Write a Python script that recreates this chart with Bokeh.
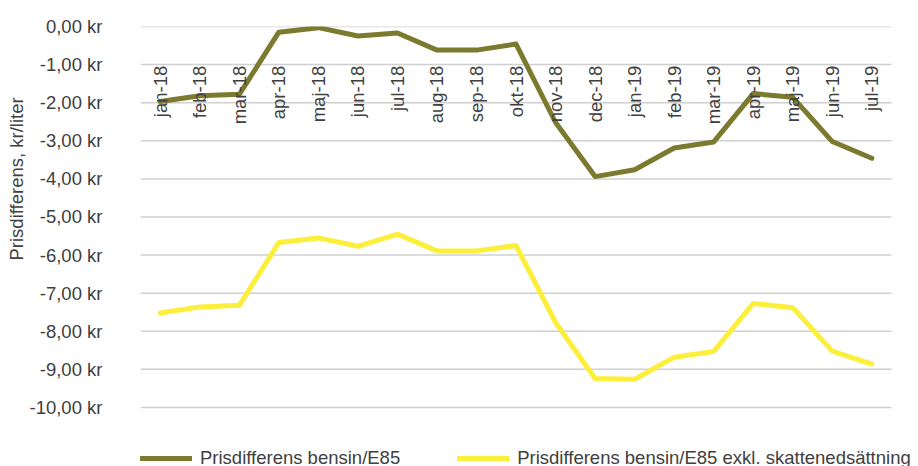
import math
from bokeh.plotting import figure
from bokeh.models import (Range1d, ColumnDataSource, CustomJSTickFormatter,
                          Legend, LegendItem, Title, FixedTicker)
from bokeh.core.properties import value
from bokeh.embed import file_html
from bokeh.resources import INLINE

months = ["jan-18", "feb-18", "mar-18", "apr-18", "maj-18", "jun-18", "jul-18", "aug-18",
          "sep-18", "okt-18", "nov-18", "dec-18", "jan-19", "feb-19", "mar-19", "apr-19",
          "maj-19", "jun-19", "jul-19"]
diff_e85 = [-1.97, -1.82, -1.78, -0.15, -0.03, -0.25, -0.17, -0.62, -0.62, -0.46,
            -2.52, -3.94, -3.76, -3.19, -3.03, -1.76, -1.86, -3.02, -3.46]
diff_excl_tax = [-7.52, -7.36, -7.32, -5.67, -5.55, -5.77, -5.45, -5.89, -5.89, -5.75,
                 -7.77, -9.24, -9.26, -8.68, -8.53, -7.27, -7.38, -8.52, -8.86]
y_ticks = [0, -1, -2, -3, -4, -5, -6, -7, -8, -9, -10]
label_row = [-1.03] * len(months)
series_names = ["Prisdifferens bensin/E85", "Prisdifferens bensin/E85 exkl. skattenedsättning"]
y_title = "Prisdifferens, kr/liter"

FONT = "Liberation Sans"
TXT = "#404040"
OLIVE = "#7b7a2e"
YELLOW = "#fcef3c"

n = len(months)
idx = list(range(n))

p = figure(width=918, height=466, output_backend="svg", toolbar_location=None,
           x_range=Range1d(-0.5, 19.18), y_range=Range1d(-11.55, 0),
           min_border_left=140, min_border_right=0, min_border_top=26, min_border_bottom=0)
p.outline_line_color = None
p.xaxis.visible = False
p.xgrid.grid_line_color = None
p.ygrid.grid_line_color = None
p.yaxis.ticker = FixedTicker(ticks=y_ticks)
p.yaxis.axis_line_color = None
p.yaxis.major_tick_line_color = None
p.yaxis.minor_tick_line_color = None
p.yaxis.major_label_standoff = 32
p.yaxis.major_label_text_font = FONT
p.yaxis.major_label_text_font_size = "18.5px"
p.yaxis.major_label_text_color = TXT
p.yaxis.formatter = CustomJSTickFormatter(code="""
    var v = Math.abs(tick) < 1e-9 ? 0 : tick;
    return v.toFixed(2).replace('.', ',') + ' kr';
""")

# horizontal gridlines spanning the category band (first band start to last band end)
p.segment(x0=[-0.5] * len(y_ticks), x1=[n - 0.5] * len(y_ticks), y0=y_ticks, y1=y_ticks,
          line_color="#d0d0d0", line_width=1.5)

src = ColumnDataSource(dict(x=idx, m=months, a=diff_e85, b=diff_excl_tax, ly=label_row))

r1 = p.line("x", "a", source=src, line_color=OLIVE, line_width=5,
            line_join="round", line_cap="round")
r2 = p.line("x", "b", source=src, line_color=YELLOW, line_width=5,
            line_join="round", line_cap="round")

p.text("x", "ly", text="m", source=src, angle=math.pi / 2, text_align="right",
       text_baseline="middle", text_font=value(FONT), text_font_size="18.5px",
       text_color=TXT)

p.add_layout(Title(text=y_title, align="left", offset=206, standoff=0, text_font=FONT,
                   text_font_size="18.5px", text_font_style="normal", text_color=TXT),
             "left")

legend = Legend(items=[LegendItem(label=series_names[0], renderers=[r1]),
                       LegendItem(label=series_names[1], renderers=[r2])],
                orientation="horizontal", location=(0, -3),
                glyph_width=52, glyph_height=12, label_standoff=8, spacing=57,
                padding=0, margin=0, border_line_color=None, background_fill_alpha=0,
                label_text_font=FONT, label_text_font_size="18.5px", label_text_color=TXT)
p.add_layout(legend, "center")

open("out.html", "w").write(file_html(p, INLINE))
